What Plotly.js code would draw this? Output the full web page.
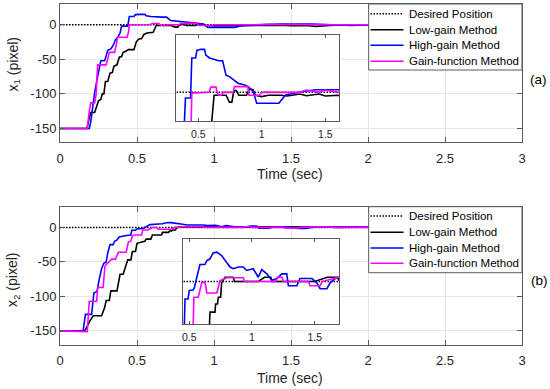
<!DOCTYPE html>
<html>
<head>
<meta charset="utf-8">
<script src="https://cdn.plot.ly/plotly-3.0.1.min.js"></script>
<style>html,body{margin:0;padding:0;background:#fff;}#chart{width:550px;height:389px;}</style>
</head>
<body>
<div id="chart"></div>
<script>
// ---------- data ----------
var seriesNames = ['Desired Position', 'Low-gain Method', 'High-gain Method', 'Gain-function Method'];

var tDes = [0, 3];
var xDes = [0, 0];

// subplot (a): x1
var t1Low = [0,0.175,0.19,0.2,0.225,0.235,0.25,0.265,0.275,0.285,0.295,0.31,0.325,0.34,0.35,0.37,0.385,0.40,0.41,0.43,0.445,0.48,0.495,0.51,0.53,0.545,0.565,0.605,0.625,0.72,0.745,0.765,0.78,0.8,0.82,0.88,0.9,0.93,0.95,1.0,1.05,1.15,1.2,1.3,1.35,1.45,1.5,1.6,1.66,1.75,1.9,2.0,3.0];
var x1Low = [-150,-150,-135,-127,-127,-120,-110,-108,-100,-100,-82,-82,-70,-69,-60,-58,-47,-46,-40,-38,-36,-36,-25,-21,-20,-14,-12,-11,-1,-1,-3.4,-3.4,0.6,0.6,-1,-1,1,1,-1,-1.5,-1,-1,-1.3,-0.6,-1.2,-0.6,-1.3,-1,-2.5,-1,0,0,0];

var t1High = [0,0.19,0.2,0.21,0.225,0.24,0.255,0.265,0.29,0.30,0.31,0.33,0.345,0.36,0.375,0.39,0.40,0.44,0.45,0.48,0.49,0.52,0.55,0.56,0.59,0.66,0.692,0.719,0.745,0.813,0.866,0.893,0.933,0.96,1.134,1.187,1.32,1.427,1.64,1.75,1.9,2.0,3.0];
var x1High = [-150,-150,-140,-122,-98,-80,-62,-52,-52,-45,-37,-35,-30,-22,-18,-12,-2,-2,12,12,14.6,15,15,13,12,11,11,6,5.5,3.2,2.6,2,0.3,-3.8,-3.8,-0.9,0.3,0.9,0.9,0,-1,0,0];

var t1Gain = [0,0.177,0.19,0.2,0.225,0.235,0.24,0.245,0.30,0.31,0.32,0.355,0.365,0.375,0.435,0.444,0.45,0.585,0.6,0.64,0.65,0.66,0.68,0.7,0.775,0.785,0.89,0.9,0.98,1.0,1.3,1.35,1.45,1.5,1.6,2.0,3.0];
var x1Gain = [-150,-150,-125,-113,-113,-100,-75,-58,-58,-50,-40,-40,-30,-18,-18,-12,-0.3,0,1.8,1.8,0,-1,-1,0,0,2,2,-1,-1,0,0,0.8,0,0.8,0,0,0];

// subplot (b): x2
var t2Low = [0,0.16,0.18,0.195,0.216,0.27,0.29,0.30,0.32,0.33,0.37,0.38,0.39,0.41,0.43,0.44,0.46,0.47,0.49,0.5,0.55,0.56,0.59,0.6,0.66,0.665,0.705,0.71,0.725,0.731,0.75,0.758,0.785,0.85,0.86,1.05,1.1,1.15,1.16,1.5,1.6,1.68,1.7,2.0,3.0];
var x2Low = [-150,-150,-142,-135,-128,-128,-116,-106,-106,-92,-92,-80,-68,-68,-55,-47,-47,-35,-35,-23,-20,-17,-17,-11,-11,-7.2,-7.2,-5.3,-5.3,-3.7,-3.7,-0.3,1,1,0,0,1,1,0,0,1,1,0,0,0];

var t2High = [0,0.15,0.165,0.205,0.22,0.24,0.255,0.27,0.285,0.3,0.31,0.325,0.345,0.355,0.37,0.385,0.42,0.46,0.466,0.49,0.5,0.53,0.54,0.585,0.625,0.64,0.665,0.69,0.72,0.758,0.785,0.825,0.851,0.891,0.93,0.958,1.01,1.05,1.078,1.118,1.158,1.2,1.237,1.277,1.29,1.357,1.383,1.477,1.517,1.543,1.597,1.623,1.663,1.69,1.8,2.0,3.0];
var x2High = [-150,-150,-126,-126,-95,-93,-75,-60,-52,-50,-37,-25,-25,-20,-18,-14,-12,-11,-4.1,-4.1,-2.1,-2,-1.5,4,4,4.9,5.3,6.7,6.9,6.1,5,3.4,3,3.4,3.4,2.6,3,1,2.8,1.8,0.3,0.7,1.8,1.8,-1,-1,0.7,0.7,-0.3,-1.7,-1.7,-0.3,0.7,1,0,0.5,0];

var t2Gain = [0,0.1,0.177,0.19,0.238,0.245,0.28,0.292,0.32,0.335,0.36,0.379,0.43,0.444,0.46,0.47,0.487,0.53,0.537,0.572,0.6,0.625,0.64,0.72,0.745,0.798,0.93,0.94,1.19,1.2,1.24,1.25,1.45,1.463,1.543,1.56,1.69,1.8,2.0,3.0];
var x2Gain = [-150,-151,-151,-107,-107,-87,-87,-56,-50,-46,-46,-36,-36,-21,-20,-12,-11,-11,-3.7,-3.7,-0.2,-0.2,-2.7,-2.7,0.2,0.9,0.9,0,0,1,1,0,0,-1,-1,0,1,0,0,0];

// tick labels
var xMainTicks = [0, 0.5, 1, 1.5, 2, 2.5, 3];
var xMainTickText = ['0', '0.5', '1', '1.5', '2', '2.5', '3'];
var yMainTicks = [-150, -100, -50, 0];
var yMainTickText = ['-150', '-100', '-50', '0'];
var xInsetTicks = [0.5, 1, 1.5];
var xInsetTickText = ['0.5', '1', '1.5'];

// ---------- styling ----------
var W = 550, H = 389;
function px(x) { return x / W; }
function py(y) { return 1 - y / H; }

var colors = ['#000000', '#000000', '#0000ff', '#ff00ff'];
var FONT = '"Liberation Sans", Arial, Helvetica, sans-serif';
var AX = '#5a5a5a';
var DOT = '1.5px,1.5px';

var groups = [
  {t: [t1Low, t1High, t1Gain], v: [x1Low, x1High, x1Gain], main: ['x', 'y'], inset: ['x2', 'y2']},
  {t: [t2Low, t2High, t2Gain], v: [x2Low, x2High, x2Gain], main: ['x3', 'y3'], inset: ['x4', 'y4']}
];

var traces = [];
groups.forEach(function (g) {
  [g.main, g.inset].forEach(function (ax) {
    traces.push({x: tDes, y: xDes, xaxis: ax[0], yaxis: ax[1], mode: 'lines', name: seriesNames[0],
      line: {color: colors[0], width: 1.5, dash: DOT}, showlegend: false, hoverinfo: 'skip'});
    for (var k = 0; k < 3; k++) {
      traces.push({x: g.t[k], y: g.v[k], xaxis: ax[0], yaxis: ax[1], mode: 'lines', name: seriesNames[k + 1],
        line: {color: colors[k + 1], width: 1.6}, showlegend: false, hoverinfo: 'skip'});
    }
  });
});

function mainX(anchor, dom) {
  return {domain: dom, range: [0, 3], anchor: anchor, tickvals: xMainTicks, ticktext: xMainTickText,
    showline: true, linecolor: AX, linewidth: 1, mirror: 'ticks', ticks: 'inside', ticklen: 5, tickcolor: AX,
    showgrid: true, gridcolor: '#e6e6e6', gridwidth: 1, zeroline: false, ticklabelstandoff: 4,
    tickfont: {family: FONT, size: 13, color: '#262626'}, fixedrange: true};
}
function mainY(anchor, dom) {
  return {domain: dom, range: [-170, 30], anchor: anchor, tickvals: yMainTicks, ticktext: yMainTickText,
    showline: true, linecolor: AX, linewidth: 1, mirror: 'ticks', ticks: 'inside', ticklen: 5, tickcolor: AX,
    showgrid: true, gridcolor: '#e6e6e6', gridwidth: 1, zeroline: false,
    tickfont: {family: FONT, size: 13, color: '#262626'}, fixedrange: true};
}
function insetX(anchor, dom, rng) {
  return {domain: dom, range: rng, anchor: anchor, tickvals: xInsetTicks, ticktext: xInsetTickText,
    showline: true, linecolor: AX, linewidth: 1, mirror: 'ticks', ticks: 'inside', ticklen: 3, tickcolor: AX,
    showgrid: false, zeroline: false, ticklabelstandoff: 3,
    tickfont: {family: FONT, size: 10.5, color: '#262626'}, fixedrange: true};
}
function insetY(anchor, dom, rng) {
  return {domain: dom, range: rng, anchor: anchor, showline: true, linecolor: AX, linewidth: 1, mirror: true,
    ticks: '', showticklabels: false, showgrid: false, zeroline: false, fixedrange: true};
}

var shapes = [];
var annotations = [];

function addLegend(top, bottom, rows) {
  shapes.push({type: 'rect', xref: 'paper', yref: 'paper', x0: px(368.7), x1: px(522), y0: py(bottom), y1: py(top),
    fillcolor: '#ffffff', line: {color: AX, width: 1}, layer: 'above'});
  for (var i = 0; i < 4; i++) {
    shapes.push({type: 'line', xref: 'paper', yref: 'paper', x0: px(370.5), x1: px(403.5), y0: py(rows[i]), y1: py(rows[i]),
      line: {color: colors[i], width: i === 0 ? 1.5 : 1.6, dash: i === 0 ? DOT : 'solid'}, layer: 'above'});
    annotations.push({xref: 'paper', yref: 'paper', x: px(406.5), y: py(rows[i]), xanchor: 'left', yanchor: 'middle',
      text: seriesNames[i], showarrow: false, font: {family: FONT, size: 11.5, color: '#000'}});
  }
}
addLegend(4, 70, [13.7, 29.7, 45.3, 61.3]);
addLegend(206.7, 272.7, [216, 232.3, 248, 263.3]);

annotations.push({xref: 'paper', yref: 'paper', x: px(13), y: py(64.5), text: 'x<sub>1</sub> (pixel)', textangle: -90,
  showarrow: false, xanchor: 'center', yanchor: 'middle', font: {family: FONT, size: 14, color: '#262626'}});
annotations.push({xref: 'paper', yref: 'paper', x: px(13), y: py(280), text: 'x<sub>2</sub> (pixel)', textangle: -90,
  showarrow: false, xanchor: 'center', yanchor: 'middle', font: {family: FONT, size: 14, color: '#262626'}});
annotations.push({xref: 'paper', yref: 'paper', x: px(290), y: py(174), text: 'Time (sec)', showarrow: false,
  xanchor: 'center', yanchor: 'middle', font: {family: FONT, size: 14, color: '#262626'}});
annotations.push({xref: 'paper', yref: 'paper', x: px(290), y: py(378), text: 'Time (sec)', showarrow: false,
  xanchor: 'center', yanchor: 'middle', font: {family: FONT, size: 14, color: '#262626'}});
annotations.push({xref: 'paper', yref: 'paper', x: px(538), y: py(79), text: '(a)', showarrow: false,
  xanchor: 'center', yanchor: 'middle', font: {family: FONT, size: 13.5, color: '#000'}});
annotations.push({xref: 'paper', yref: 'paper', x: px(539), y: py(280), text: '(b)', showarrow: false,
  xanchor: 'center', yanchor: 'middle', font: {family: FONT, size: 13.5, color: '#000'}});

var layout = {
  width: W, height: H, margin: {l: 0, r: 0, t: 0, b: 0},
  paper_bgcolor: '#ffffff', plot_bgcolor: '#ffffff', showlegend: false,
  font: {family: FONT, color: '#262626'},
  xaxis: mainX('y', [px(60), px(522)]),
  yaxis: mainY('x', [py(142.3), py(4)]),
  xaxis2: insetX('y2', [px(176.3), px(339)], [0.328, 1.607]),
  yaxis2: insetY('x2', [py(121), py(35)], [-10, 20]),
  xaxis3: mainX('y3', [px(60), px(522)]),
  yaxis3: mainY('x3', [py(344.7), py(206.7)]),
  xaxis4: insetX('y4', [px(183), px(339.3)], [0.45, 1.696]),
  yaxis4: insetY('x4', [py(324), py(239)], [-10, 10]),
  shapes: shapes,
  annotations: annotations
};

Plotly.newPlot('chart', traces, layout, {staticPlot: true, displayModeBar: false});
</script>
</body>
</html>
